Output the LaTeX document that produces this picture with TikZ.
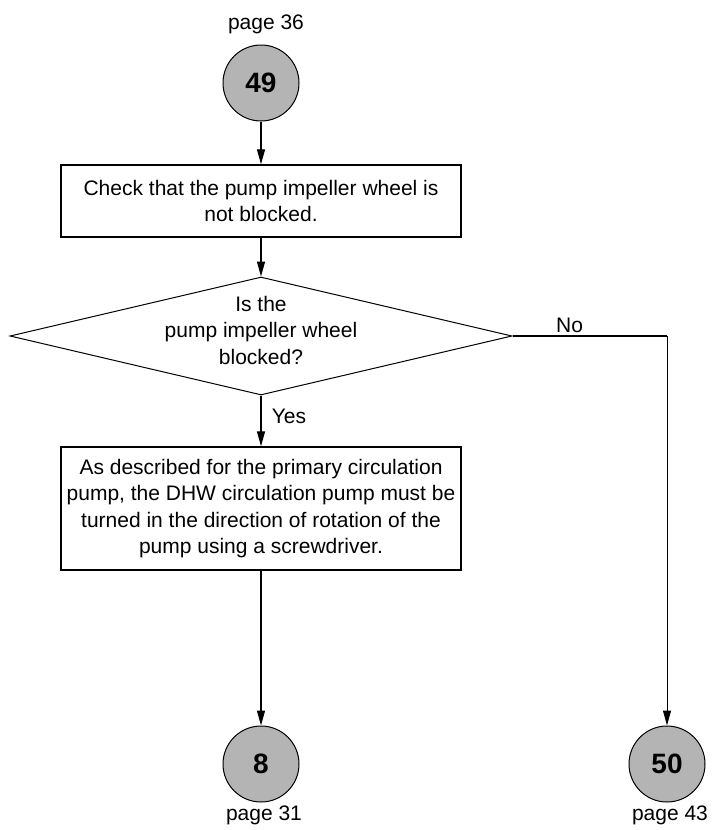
\documentclass[tikz,border=0pt]{standalone}
\usepackage{fontspec}
\setmainfont{Liberation Sans}
\usetikzlibrary{arrows.meta,shapes.geometric}
\definecolor{circgray}{RGB}{180,180,180}
\begin{document}
\begin{tikzpicture}[x=1pt,y=-1pt,
  txt/.style={font=\fontsize{21}{26.5}\selectfont, align=center, inner sep=0pt},
  stepbox/.style={txt, draw, line width=1.4pt, minimum width=400pt},
  connector/.style={circle, draw, fill=circgray, line width=1pt, minimum size=76pt, inner sep=0pt, font=\fontsize{28}{28}\bfseries\selectfont},
  decision/.style={diamond, draw, line width=1pt, inner sep=0pt, minimum width=502pt, minimum height=118pt, aspect=4.25},
  arr/.style={line width=1.3pt, -{Triangle[length=15pt,width=8pt]}},
]
\useasboundingbox[fill=white] (0,0) rectangle (712,830);

\node[txt] (p36) at (266,24) {page 36};
\node[connector] (c49) at (261,83) {49};
\node[stepbox, minimum height=72pt] (b1) at (261,201) {Check that the pump impeller wheel is\\not blocked.};
\node[decision] (dec) at (261,336) {};
\node[txt] (dect) at (261,330) {Is the\\pump impeller wheel\\blocked?};
\node[stepbox, minimum height=123pt] (b2) at (261,508.5) {As described for the primary circulation\\pump, the DHW circulation pump must be\\turned in the direction of rotation of the\\pump using a screwdriver.};
\node[connector] (c8) at (261,764) {8};
\node[connector] (c50) at (667,764) {50};
\node[txt] (p31) at (264,815) {page 31};
\node[txt] (p43) at (670,815) {page 43};
\coordinate (nc) at (667,336);
\node[txt, anchor=west] (no) at (556,325) {No};
\node[txt] (yes) at (289,416) {Yes};

\draw[arr] (c49) -- (b1);
\draw[arr] (b1) -- (dec);
\draw[arr] (dec) -- (b2);
\draw[arr] (b2) -- (c8);
\draw[line width=2pt] (dec.east) -- (nc);
\draw[line width=1pt, -{Triangle[length=15pt,width=8pt]}] (nc) -- (c50);
\end{tikzpicture}
\end{document}
